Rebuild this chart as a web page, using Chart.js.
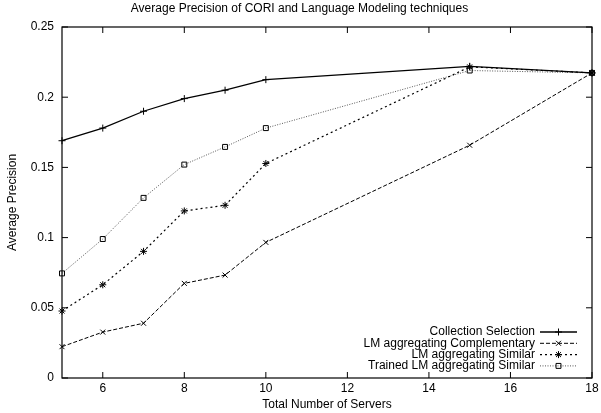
<!DOCTYPE html>
<html><head><meta charset="utf-8">
<script src="https://cdn.jsdelivr.net/npm/chart.js@4"></script>
<style>html,body{margin:0;padding:0;background:#fff}#wrap{width:601px;height:413px}</style>
</head><body><div id="wrap"><canvas id="c" width="601" height="413"></canvas></div>
<script>
const servers = [5, 6, 7, 8, 9, 10, 15, 18];
const collectionSelection = [0.169, 0.178, 0.190, 0.199, 0.205, 0.2125, 0.222, 0.2173];
const lmComplementary = [0.0223, 0.0327, 0.039, 0.0674, 0.0733, 0.0966, 0.1658, 0.2173];
const lmSimilar = [0.0477, 0.0664, 0.0902, 0.119, 0.123, 0.1528, 0.2216, 0.2173];
const trainedLmSimilar = [0.0745, 0.099, 0.1283, 0.152, 0.1646, 0.178, 0.219, 0.2173];
const xTicks = [6, 8, 10, 12, 14, 16, 18];
const yTicks = [0, 0.05, 0.1, 0.15, 0.2, 0.25];
const yTickLabels = ['0', '0.05', '0.1', '0.15', '0.2', '0.25'];

const FONT = 'Liberation Sans, Arial, sans-serif';
function pts(arr){ return servers.map((x,i)=>({x:x, y:arr[i]})); }

const frame = {
  id:'frame',
  afterDatasetsDraw(chart){
    const {ctx, chartArea:a, scales:{x,y}} = chart;
    ctx.save();
    ctx.strokeStyle='#000'; ctx.lineWidth=1.2;
    ctx.strokeRect(a.left, a.top, a.right-a.left, a.bottom-a.top);
    ctx.lineWidth=1;
    const t=6;
    ctx.beginPath();
    xTicks.forEach(v=>{const p=x.getPixelForValue(v);
      ctx.moveTo(p,a.bottom); ctx.lineTo(p,a.bottom-t);
      ctx.moveTo(p,a.top); ctx.lineTo(p,a.top+t);});
    yTicks.forEach(v=>{const p=y.getPixelForValue(v);
      ctx.moveTo(a.left,p); ctx.lineTo(a.left+t,p);
      ctx.moveTo(a.right,p); ctx.lineTo(a.right-t,p);});
    ctx.stroke();
    // legend
    ctx.font = '12px '+FONT;
    ctx.textAlign='right'; ctx.textBaseline='middle';
    const textX = a.right-57, x0=a.right-52, x1=a.right-15;
    chart.data.datasets.forEach((ds,i)=>{
      const yy = a.bottom-46+i*11.3;
      ctx.fillStyle='#000';
      ctx.fillText(ds.label, textX, yy);
      ctx.save();
      ctx.strokeStyle=ds.borderColor; ctx.lineWidth=ds.borderWidth;
      ctx.setLineDash(ds.borderDash||[]);
      ctx.beginPath(); ctx.moveTo(x0,yy); ctx.lineTo(x1,yy); ctx.stroke();
      ctx.restore();
      ctx.save();
      ctx.fillStyle='rgba(0,0,0,0)'; ctx.strokeStyle='#000';
      Chart.helpers.drawPoint(ctx,{pointStyle:ds.pointStyle, radius:ds.pointRadius, borderWidth:1},(x0+x1)/2,yy);
      ctx.restore();
    });
    ctx.restore();
  }
};

const common = {fill:false, tension:0, pointBackgroundColor:'rgba(0,0,0,0)', pointBorderWidth:1, pointRadius:3.5, clip:false};
new Chart(document.getElementById('c'), {
  type:'line',
  data:{datasets:[
    Object.assign({label:'Collection Selection', data:pts(collectionSelection), borderColor:'#000', pointBorderColor:'#000', borderWidth:1.3, pointStyle:'cross'}, common),
    Object.assign({label:'LM aggregating Complementary', data:pts(lmComplementary), borderColor:'#000', pointBorderColor:'#000', borderWidth:1, borderDash:[4,2], pointStyle:'crossRot'}, common),
    Object.assign({label:'LM aggregating Similar', data:pts(lmSimilar), borderColor:'#000', pointBorderColor:'#000', borderWidth:1.2, borderDash:[2,3], pointStyle:'star'}, common),
    Object.assign({label:'Trained LM aggregating Similar', data:pts(trainedLmSimilar), borderColor:'#555', pointBorderColor:'#000', borderWidth:1, borderDash:[1,1.5], pointStyle:'rect'}, common)
  ]},
  options:{
    responsive:false, animation:false, devicePixelRatio:1,
    layout:{padding:{left:7, right:9, top:0, bottom:0}},
    plugins:{
      legend:{display:false}, tooltip:{enabled:false},
      title:{display:true, text:'Average Precision of CORI and Language Modeling techniques', color:'#000', font:{family:FONT, size:12, weight:'normal', lineHeight:1}, padding:{top:3, bottom:12}}
    },
    scales:{
      x:{type:'linear', min:5, max:18,
        afterBuildTicks(s){ s.ticks = xTicks.map(v=>({value:v})); },
        afterFit(s){ s.height = 35; s.paddingLeft = 0; s.paddingRight = 0; },
        grid:{display:false, drawTicks:false}, border:{display:false},
        ticks:{color:'#000', font:{family:FONT, size:12, lineHeight:1}, padding:5, maxRotation:0},
        title:{display:true, text:'Total Number of Servers', color:'#000', font:{family:FONT, size:12, lineHeight:1}, padding:{top:2,bottom:2}}},
      y:{type:'linear', min:0, max:0.25,
        afterBuildTicks(s){ s.ticks = yTicks.map(v=>({value:v})); },
        afterFit(s){ s.width = 55; s.paddingTop = 0; s.paddingBottom = 0; },
        grid:{display:false, drawTicks:false}, border:{display:false},
        ticks:{color:'#000', font:{family:FONT, size:12}, padding:8, callback:(v)=>yTickLabels[yTicks.indexOf(v)] ?? ''},
        title:{display:true, text:'Average Precision', color:'#000', font:{family:FONT, size:12, lineHeight:1}, padding:{top:0,bottom:4}}}
    }
  },
  plugins:[frame]
});
</script></body></html>
